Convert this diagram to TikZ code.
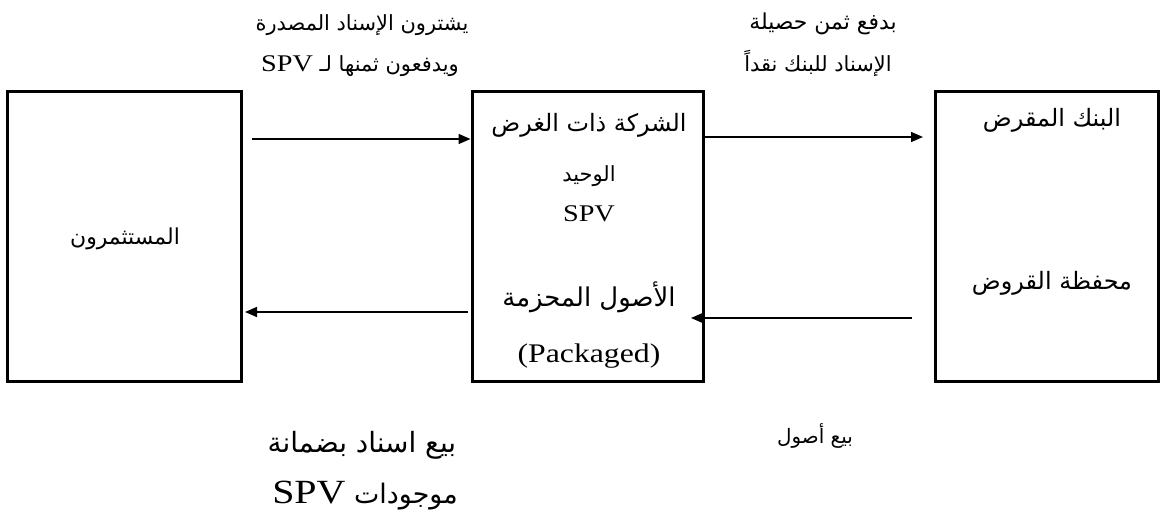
\documentclass[tikz,border=0pt]{standalone}
\usepackage{fontspec}
\setmainfont{Liberation Serif}
\newfontfamily\arabicfont[Script=Arabic]{DejaVu Sans}
\newfontfamily\latinwide[FakeStretch=1.18]{Liberation Serif}
\TeXXeTstate=1
\usetikzlibrary{arrows.meta}

\newcommand{\AR}[1]{{\arabicfont\beginR #1\endR}}
\newcommand{\LT}[1]{\beginL{\latinwide #1}\endL{}}
\newcommand{\fs}[1]{\fontsize{#1}{#1}\selectfont}

\tikzset{
  party/.style={draw=black, line width=3bp, minimum width=#1, minimum height=289bp, inner sep=0pt},
  flow/.style={line width=1.6bp, -{Triangle[length=12bp,width=10bp]}},
  lbl/.style={anchor=base, inner sep=0pt},
}

\begin{document}
\begin{tikzpicture}[x=1bp, y=-1bp]
  \useasboundingbox (0,0) rectangle (1161,518);

  % the three parties
  \node[party=233bp] (inv) at (124.5,236.5) {};
  \node[party=231bp] (spv) at (587.5,236.5) {};
  \node[party=223bp] (bank) at (1046.5,236.5) {};

  % texts inside the boxes
  \node[lbl, font=\fs{22}] (invt) at (125,245) {\AR{المستثمرون}};

  \node[lbl, font=\fs{24}] (spv1) at (589,132) {\AR{الشركة ذات الغرض}};
  \node[lbl, font=\fs{21}] (spv2) at (589,182) {\AR{الوحيد}};
  \node[lbl, font=\fs{24}\latinwide] (spv3) at (589,222) {SPV};
  \node[lbl, font=\fs{26}] (spv4) at (589,307) {\AR{الأصول المحزمة}};
  \node[lbl, font=\fs{27}\latinwide] (spv5) at (589,363) {(Packaged)};

  \node[lbl, font=\fs{24}] (bank1) at (1052,127) {\AR{البنك المقرض}};
  \node[lbl, font=\fs{24}] (bank2) at (1052,290) {\AR{محفظة القروض}};

  % flows between the parties
  \coordinate (f1s) at (252,139);
  \coordinate (f2s) at (spv.east |- 0,137);
  \coordinate (f2e) at (923,137);
  \coordinate (f3s) at (468,312);
  \coordinate (f3e) at (245,312);
  \coordinate (f4s) at (912,318);
  \coordinate (f4e) at (691,318);

  \draw[flow] (f1s) -- (f1s -| spv.west);
  \draw[flow] (f2s) -- (f2e);
  \draw[flow] (f3s) -- (f3e);
  \draw[flow] (f4s) -- (f4e);

  % flow labels
  \node[lbl, font=\fs{21}] (t1a) at (362,31) {\AR{يشترون الإسناد المصدرة}};
  \node[lbl, font=\fs{21}] (t1b) at (360,72) {\AR{ويدفعون ثمنها لـ \LT{\fs{24}SPV}}};

  \node[lbl, font=\fs{22}] (t2a) at (823,30) {\AR{بدفع ثمن حصيلة}};
  \node[lbl, font=\fs{21}] (t2b) at (818,72) {\AR{الإسناد للبنك نقداً}};

  \node[lbl, font=\fs{28}] (t3a) at (362,452) {\AR{بيع اسناد بضمانة}};
  \node[lbl, font=\fs{27}] (t3b) at (365,503) {\AR{موجودات \LT{\fs{34}SPV}}};

  \node[lbl, font=\fs{20}] (t4) at (815,443) {\AR{بيع أصول}};
\end{tikzpicture}
\end{document}
